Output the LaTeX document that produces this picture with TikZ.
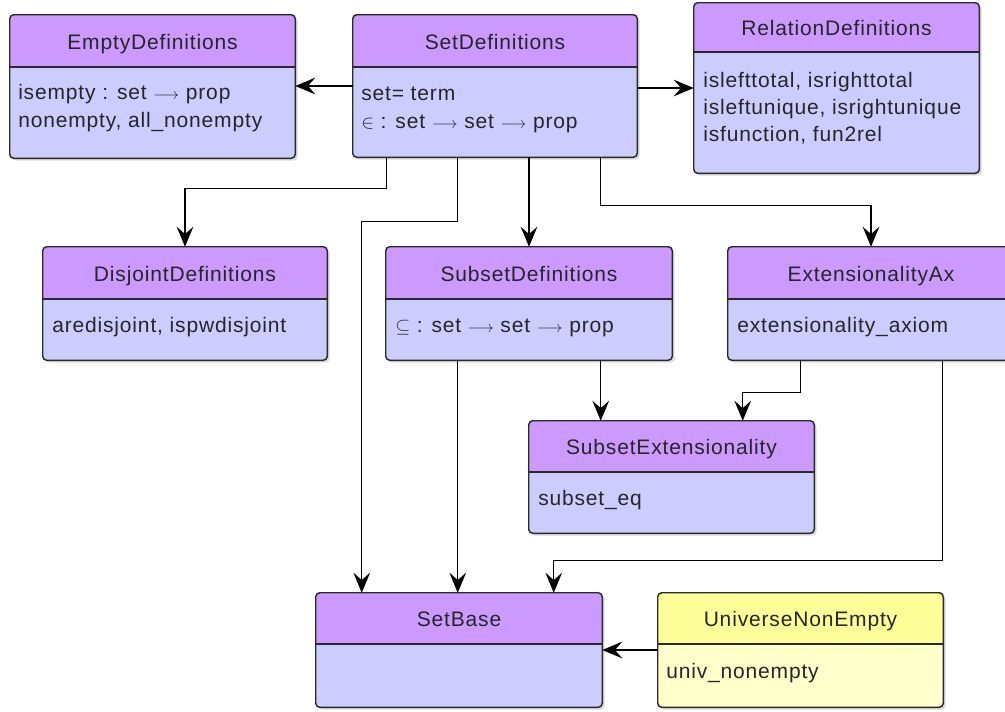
\documentclass[tikz,border=0pt]{standalone}
\usepackage{fontspec}
\setmainfont[LetterSpace=4]{Liberation Sans}
\usetikzlibrary{arrows.meta,calc,fit,shadows}

\definecolor{hdrpurple}{HTML}{CC99FF}
\definecolor{bodylav}{HTML}{CCCCFF}
\definecolor{hdryellow}{HTML}{FFFF99}
\definecolor{bodyyellow}{HTML}{FFFFCC}
\definecolor{edgegray}{HTML}{2A2A2A}

\tikzset{
  modframe/.style={inner sep=0pt, rounded corners=3pt,
    drop shadow={shadow xshift=2pt, shadow yshift=-2pt, opacity=0.28}},
  boxedge/.style={draw=edgegray, line width=1.1pt},
  title/.style={anchor=base, inner sep=0pt, text=black!85},
  entry/.style={anchor=base west, inner sep=0pt, text=black!85},
  dep/.style={draw=black, line width=1.1pt,
    -{Stealth[length=15pt, width=12.5pt, inset=5.5pt]}},
}

% module box: name, x1, y1, x2, y2, divider y, header colour, body colour, title
\newcommand{\modbox}[9]{%
  \node[modframe, fill=#8, fit={(#2,#3) (#4,#5)}] (#1) {};
  \begin{scope}
    \clip (#2,#3) rectangle (#4,#6);
    \fill[#7, rounded corners=3pt] (#2,#3) rectangle (#4,#5);
  \end{scope}
  \draw[boxedge] (#2,#6) -- (#4,#6);
  \draw[boxedge, rounded corners=3pt] (#1.south west) rectangle (#1.north east);
  \node[title] (#1-title) at ({(#2+#4)/2}, {(#3+#6)/2+8}) {#9};
}

\newcommand{\arrto}{{\fontsize{12.5}{12.5}\selectfont$\longrightarrow$}}

\begin{document}
\begin{tikzpicture}[x=0.75pt, y=-0.75pt, font=\fontsize{15.75}{19}\selectfont]
\useasboundingbox (0,0) rectangle (1005,711);

% modules
\modbox{empty}{10}{15}{295}{158}{67}{hdrpurple}{bodylav}{EmptyDefinitions}
\modbox{setdef}{353}{15}{637}{157}{67}{hdrpurple}{bodylav}{SetDefinitions}
\modbox{rel}{694}{3}{979}{173}{52}{hdrpurple}{bodylav}{RelationDefinitions}
\modbox{disj}{43}{247}{327}{360}{299}{hdrpurple}{bodylav}{DisjointDefinitions}
\modbox{subdef}{386}{247}{672}{360}{299}{hdrpurple}{bodylav}{SubsetDefinitions}
\modbox{extax}{728}{247}{1014}{360}{299}{hdrpurple}{bodylav}{ExtensionalityAx}
\modbox{subext}{529}{421}{814}{533}{472}{hdrpurple}{bodylav}{SubsetExtensionality}
\modbox{setbase}{316}{593}{602}{707}{644}{hdrpurple}{bodylav}{SetBase}
\modbox{univ}{658}{593}{943}{707}{644}{hdryellow}{bodyyellow}{UniverseNonEmpty}

% module contents
\node[entry] (empty-1) at (18,99) {isempty : set \arrto{} prop};
\node[entry] (empty-2) at (18,127) {nonempty, all\_nonempty};
\node[entry] (setdef-1) at (361,100) {set= term};
\node[entry] (setdef-2) at (361,128) {{\fontsize{13.5}{13.5}\selectfont$\in$} : set \arrto{} set \arrto{} prop};
\node[entry] (rel-1) at (703,87) {islefttotal, isrighttotal};
\node[entry] (rel-2) at (703,114) {isleftunique, isrightunique};
\node[entry] (rel-3) at (703,141) {isfunction, fun2rel};
\node[entry] (disj-1) at (52,332) {aredisjoint, ispwdisjoint};
\node[entry] (subdef-1) at (395,332) {{\fontsize{14}{14}\selectfont$\subseteq$} : set \arrto{} set \arrto{} prop};
\node[entry] (extax-1) at (737,332) {extensionality\_axiom};
\node[entry] (subext-1) at (538,505) {subset\_eq};
\node[entry] (univ-1) at (666,678) {univ\_nonempty};

% dependencies
\draw[dep] (setdef.west) -- (setdef.west -| empty.east);
\draw[dep] (rel.west -| setdef.east) -- (rel.west);
\draw[dep] ($(setdef.south west)+(34,0)$) -- ++(0,31) -| (disj.north);
\draw[dep] ($(setdef.south west)+(105,0)$) -- ++(0,64) -| ($(setbase.north west)+(46,0)$);
\draw[dep] (setdef.south -| subdef.north) -- (subdef.north);
\draw[dep] ($(setdef.south west)+(248,0)$) -- ++(0,48) -| (extax.north);
\draw[dep] ($(subdef.south west)+(72,0)$) -- ($(setbase.north west)+(142,0)$);
\draw[dep] ($(subdef.south west)+(215,0)$) -- ($(subext.north west)+(72,0)$);
\draw[dep] ($(extax.south west)+(73,0)$) -- ++(0,32) -| ($(subext.north west)+(214,0)$);
\draw[dep] ($(extax.south west)+(215,0)$) -- ++(0,200) -| ($(setbase.north west)+(238,0)$);
\draw[dep] (univ.west) -- (univ.west -| setbase.east);
\end{tikzpicture}
\end{document}
